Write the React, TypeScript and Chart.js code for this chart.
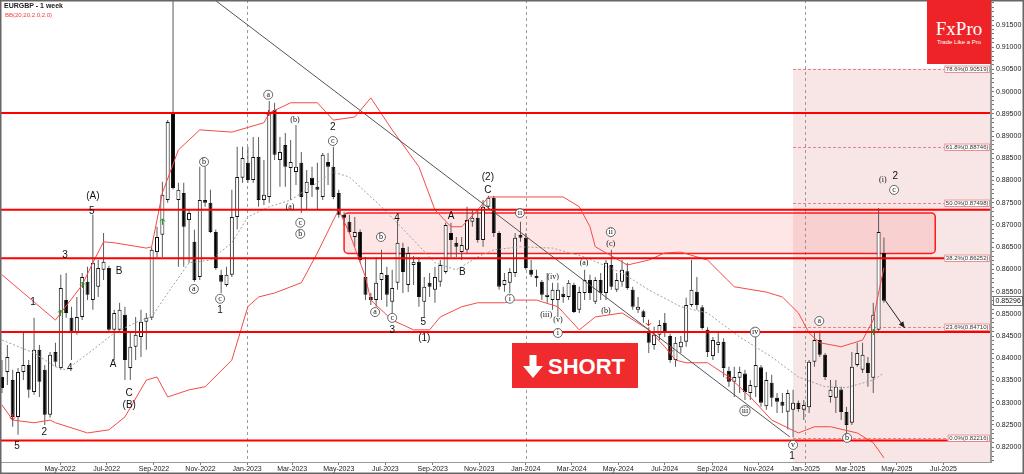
import React, { useEffect, useRef } from "react";
import { Chart, registerables } from "chart.js";
Chart.register(...registerables);

// ---- weekly candles (EURGBP, weeks starting 14 Feb 2022) ----
const FIRST_WEEK = "2022-02-14";
const OPEN = [0.8358,0.8369,0.8351,0.8268,0.8369,0.8385,0.8324,0.8419,0.8374,0.8273,0.8414,0.8378,0.8531,0.8491,0.8457,0.8493,0.8572,0.8531,0.8561,0.8599,0.8603,0.8464,0.8464,0.8498,0.8378,0.8426,0.8448,0.8482,0.8491,0.8639,0.8678,0.8756,0.8952,0.8756,0.8772,0.8711,0.8662,0.8583,0.8756,0.8750,0.8684,0.8588,0.8565,0.8588,0.8718,0.8806,0.8840,0.8801,0.8853,0.8756,0.8763,0.8959,0.8846,0.8880,0.8828,0.8819,0.8840,0.8772,0.8806,0.8786,0.8763,0.8842,0.8831,0.8772,0.8723,0.8707,0.8673,0.8684,0.8583,0.8538,0.8531,0.8576,0.8588,0.8527,0.8570,0.8648,0.8565,0.8610,0.8617,0.8527,0.8570,0.8554,0.8572,0.8594,0.8682,0.8660,0.8639,0.8644,0.8707,0.8716,0.8666,0.8741,0.8761,0.8682,0.8565,0.8570,0.8592,0.8678,0.8671,0.8599,0.8586,0.8572,0.8538,0.8531,0.8531,0.8545,0.8538,0.8565,0.8509,0.8547,0.8576,0.8527,0.8576,0.8547,0.8610,0.8554,0.8572,0.8596,0.8554,0.8509,0.8506,0.8457,0.8430,0.8453,0.8480,0.8450,0.8396,0.8425,0.8437,0.8520,0.8550,0.8515,0.8464,0.8405,0.8430,0.8437,0.8372,0.8347,0.8356,0.8366,0.8322,0.8335,0.8380,0.8292,0.8345,0.8311,0.8302,0.8280,0.8284,0.8300,0.8284,0.8290,0.8392,0.8441,0.8408,0.8313,0.8311,0.8330,0.8279,0.8255,0.8385,0.8374,0.8390,0.8356,0.8464,0.8637];
const HIGH = [0.8396,0.8430,0.8374,0.8378,0.8457,0.8396,0.8491,0.8430,0.8385,0.8414,0.8435,0.8588,0.8592,0.8516,0.8538,0.8592,0.8606,0.8723,0.8621,0.8682,0.8608,0.8509,0.8525,0.8516,0.8457,0.8493,0.8509,0.8502,0.8650,0.8696,0.8797,0.8936,0.9267,0.8795,0.8795,0.8734,0.8689,0.8831,0.8831,0.8779,0.8690,0.8599,0.8606,0.8779,0.8876,0.8876,0.8876,0.8898,0.8898,0.8846,0.8979,0.8975,0.8898,0.8907,0.8891,0.8925,0.8864,0.8824,0.8831,0.8840,0.8862,0.8862,0.8876,0.8779,0.8730,0.8723,0.8718,0.8690,0.8628,0.8547,0.8628,0.8644,0.8606,0.8599,0.8711,0.8660,0.8651,0.8630,0.8628,0.8583,0.8592,0.8606,0.8621,0.8705,0.8705,0.8673,0.8673,0.8741,0.8734,0.8734,0.8756,0.8766,0.8766,0.8686,0.8592,0.8603,0.8682,0.8707,0.8682,0.8621,0.8599,0.8576,0.8592,0.8570,0.8570,0.8561,0.8576,0.8570,0.8561,0.8599,0.8588,0.8583,0.8592,0.8621,0.8644,0.8592,0.8621,0.8615,0.8561,0.8538,0.8509,0.8470,0.8471,0.8486,0.8502,0.8455,0.8448,0.8450,0.8536,0.8621,0.8583,0.8520,0.8470,0.8448,0.8457,0.8445,0.8381,0.8381,0.8381,0.8374,0.8351,0.8448,0.8385,0.8369,0.8363,0.8322,0.8322,0.8329,0.8329,0.8305,0.8306,0.8396,0.8459,0.8462,0.8412,0.8351,0.8351,0.8336,0.8291,0.8414,0.8435,0.8435,0.8403,0.8525,0.8738,0.8672];
const LOW = [0.8322,0.8340,0.8246,0.8228,0.8351,0.8311,0.8318,0.8313,0.8250,0.8266,0.8381,0.8374,0.8491,0.8396,0.8453,0.8486,0.8531,0.8509,0.8538,0.8576,0.8457,0.8396,0.8457,0.8351,0.8351,0.8396,0.8403,0.8419,0.8486,0.8628,0.8628,0.8750,0.8780,0.8606,0.8606,0.8615,0.8572,0.8576,0.8741,0.8682,0.8599,0.8547,0.8561,0.8583,0.8690,0.8795,0.8795,0.8795,0.8741,0.8745,0.8750,0.8846,0.8786,0.8786,0.8756,0.8790,0.8727,0.8734,0.8763,0.8734,0.8756,0.8790,0.8758,0.8716,0.8700,0.8680,0.8651,0.8615,0.8531,0.8520,0.8516,0.8531,0.8516,0.8502,0.8554,0.8547,0.8549,0.8565,0.8516,0.8493,0.8538,0.8525,0.8561,0.8590,0.8628,0.8628,0.8621,0.8637,0.8696,0.8660,0.8651,0.8734,0.8673,0.8554,0.8550,0.8547,0.8583,0.8662,0.8599,0.8583,0.8561,0.8531,0.8525,0.8509,0.8493,0.8525,0.8531,0.8502,0.8502,0.8531,0.8531,0.8522,0.8531,0.8531,0.8554,0.8549,0.8561,0.8554,0.8509,0.8502,0.8480,0.8412,0.8419,0.8441,0.8448,0.8390,0.8381,0.8412,0.8426,0.8516,0.8509,0.8464,0.8403,0.8396,0.8412,0.8358,0.8336,0.8313,0.8322,0.8306,0.8306,0.8313,0.8291,0.8284,0.8291,0.8277,0.8277,0.8240,0.8222,0.8280,0.8261,0.8277,0.8381,0.8403,0.8351,0.8300,0.8277,0.8261,0.8232,0.8250,0.8381,0.8367,0.8336,0.8322,0.8460,0.8525];
const CLOSE = [0.8333,0.8403,0.8268,0.8369,0.8385,0.8329,0.8419,0.8347,0.8273,0.8408,0.8392,0.8558,0.8502,0.8457,0.8493,0.8583,0.8543,0.8615,0.8603,0.8617,0.8464,0.8502,0.8509,0.8396,0.8426,0.8453,0.8482,0.8491,0.8644,0.8673,0.8768,0.8932,0.8783,0.8779,0.8696,0.8727,0.8576,0.8756,0.8750,0.8684,0.8603,0.8572,0.8588,0.8718,0.8808,0.8851,0.8801,0.8853,0.8756,0.8768,0.8952,0.8858,0.8864,0.8831,0.8842,0.8831,0.8763,0.8797,0.8790,0.8779,0.8858,0.8831,0.8763,0.8723,0.8716,0.8684,0.8684,0.8621,0.8543,0.8531,0.8570,0.8592,0.8543,0.8558,0.8660,0.8594,0.8637,0.8617,0.8538,0.8561,0.8561,0.8583,0.8610,0.8700,0.8666,0.8651,0.8655,0.8711,0.8716,0.8666,0.8741,0.8761,0.8682,0.8561,0.8576,0.8594,0.8671,0.8671,0.8603,0.8588,0.8580,0.8543,0.8543,0.8554,0.8554,0.8538,0.8570,0.8504,0.8549,0.8576,0.8547,0.8576,0.8547,0.8615,0.8561,0.8576,0.8599,0.8558,0.8516,0.8516,0.8493,0.8435,0.8453,0.8475,0.8457,0.8396,0.8435,0.8437,0.8520,0.8554,0.8520,0.8468,0.8414,0.8441,0.8437,0.8378,0.8347,0.8358,0.8369,0.8324,0.8340,0.8385,0.8300,0.8351,0.8311,0.8302,0.8293,0.8322,0.8300,0.8286,0.8295,0.8392,0.8441,0.8408,0.8358,0.8329,0.8336,0.8279,0.8250,0.8381,0.8412,0.8408,0.8367,0.8498,0.8684,0.85296];

// ---- Bollinger bands (20, 2.0), read at candle indices ----
const BB_UPPER_IDX = [0,10,11,15,17,19,21,27,28,30,33,37,43,49,50,54,59,62,66,69,73,78,81,84,86,89,91,96,105,108,110,111,117,121,124,127,132,137,143,146,149,151,153,157,161,163,164,165];
const BB_UPPER = [0.8588,0.8486,0.8502,0.8565,0.8615,0.8662,0.8660,0.8648,0.8651,0.8772,0.8869,0.8914,0.8909,0.8930,0.8952,0.8975,0.8975,0.8936,0.8943,0.8986,0.8914,0.8831,0.8734,0.8696,0.8696,0.8734,0.8763,0.8763,0.8763,0.8741,0.8696,0.8651,0.8610,0.8621,0.8637,0.8639,0.8621,0.8561,0.8549,0.8538,0.8502,0.8457,0.8435,0.8426,0.8441,0.8486,0.8547,0.8604];
const BB_LOWER_IDX = [0,2,6,9,10,16,20,23,27,29,31,35,38,43,46,48,51,56,59,62,63,65,68,69,73,77,80,82,86,89,94,96,100,104,108,111,116,121,124,126,128,132,136,140,144,149,152,155,160,163,165];
const BB_LOWER = [0.8295,0.8261,0.8255,0.8261,0.8255,0.8232,0.8239,0.8268,0.8351,0.8358,0.8313,0.8329,0.8336,0.8396,0.8516,0.8538,0.8547,0.8570,0.8637,0.8711,0.8734,0.8682,0.8583,0.8531,0.8486,0.8464,0.8464,0.8493,0.8516,0.8525,0.8525,0.8531,0.8531,0.8516,0.8464,0.8493,0.8502,0.8464,0.8426,0.8396,0.8390,0.8390,0.8358,0.8313,0.8261,0.8232,0.8246,0.8246,0.8232,0.8210,0.8176];
const BB_MID_IDX = [0,6,10,12,17,21,26,28,31,35,39,43,46,50,54,62,65,71,77,81,85,89,92,97,103,109,116,121,127,132,138,144,149,154,158,163,165];
const BB_MID = [0.8441,0.8412,0.8381,0.8374,0.8419,0.8457,0.8486,0.8493,0.8547,0.8615,0.8621,0.8660,0.8718,0.8741,0.8756,0.8819,0.8808,0.8741,0.8666,0.8615,0.8599,0.8628,0.8644,0.8651,0.8648,0.8628,0.8592,0.8554,0.8516,0.8502,0.8448,0.8403,0.8358,0.8336,0.8334,0.8351,0.8367];

// ---- axis ticks ----
const TICK_DATES = ["2022-05-01","2022-07-01","2022-09-01","2022-11-01","2023-01-01","2023-03-01","2023-05-01","2023-07-01","2023-09-01","2023-11-01","2024-01-01","2024-03-01","2024-05-01","2024-07-01","2024-09-01","2024-11-01","2025-01-01","2025-03-01","2025-05-01","2025-07-01"];
const TICK_LABELS = ["May-2022","Jul-2022","Sep-2022","Nov-2022","Jan-2023","Mar-2023","May-2023","Jul-2023","Sep-2023","Nov-2023","Jan-2024","Mar-2024","May-2024","Jul-2024","Sep-2024","Nov-2024","Jan-2025","Mar-2025","May-2025","Jul-2025"];
const Y_LABEL_MIN = 0.82;
const Y_LABEL_MAX = 0.915;
const Y_MIN = 0.816665;
const Y_MAX = 0.920626;
const X_MIN = -0.374;
const X_MAX = 185.03;

// ---- drawn analysis ----
const LEVELS = [0.8952, 0.8734, 0.8625, 0.8459, 0.8215];
const BOX_IDX = [64, 174.6];
const BOX_VAL = [0.8727, 0.8636];
const TREND_IDX = [30, 147.4];
const TREND_VAL = [0.9296, 0.8223];
const FIB_START_IDX = 148;
const FIB_PCT = ["78.6%", "61.8%", "50.0%", "38.2%", "23.6%", "0.0%"];
const FIB_VAL = [0.90519, 0.88746, 0.87498, 0.86252, 0.8471, 0.82216];
const ARROW_IDX = [165.2, 168.9];
const ARROW_VAL = [0.8531, 0.8468];
const LAST_PRICE = 0.85296;

// signal markers (green = up, red = down)
const UP_MARK_IDX = [10.85, 15.0, 29.9, 163.0];
const UP_MARK_VAL = [0.8502, 0.8565, 0.8707, 0.8459];
const DOWN_MARK_IDX = [1.9, 49.8, 120.9, 125.0, 135.8];
const DOWN_MARK_VAL = [0.8268, 0.8952, 0.848, 0.8419, 0.8358];

const WAVE_TEXT = ["1","3","(A)","5","B","4","A","C","(B)","2","5","b","a","c","1","a","(b)","(a)","c","b","2","c","b","4","a","c","3","5","(1)","A","B","(2)","C","ii","i","(iv)","(iii)","(v)","i","(a)","(b)","(c)","ii","iii","iv","v","1","a","b","(i)","2","c"];
const WAVE_KIND = ["n","n","n","n","n","n","n","n","n","n","n","c","c","c","n","c","p","p","c","c","n","c","c","n","c","c","n","n","n","n","n","n","n","c","c","p","p","p","c","p","p","p","c","c","c","c","n","c","c","p","n","c"];
const WAVE_IDX = [5.8,11.8,17.0,16.8,21.9,12.7,20.8,23.8,23.8,7.9,2.8,37.8,35.9,40.8,40.8,49.8,54.8,53.9,55.8,55.8,61.9,61.9,70.9,73.9,69.8,73.0,73.0,78.8,79.0,84.0,86.1,90.9,90.9,96.9,95.0,103.1,101.8,104.0,104.0,108.9,113.0,113.9,113.9,139.0,140.9,148.0,147.8,152.9,158.1,164.8,167.1,166.9];
const WAVE_VAL = [0.8527,0.8633,0.8765,0.8732,0.8597,0.8378,0.8387,0.8322,0.8295,0.8234,0.8201,0.8842,0.8556,0.8534,0.8507,0.8993,0.8936,0.8741,0.8705,0.868,0.8921,0.8889,0.8673,0.8716,0.8504,0.8491,0.8464,0.848,0.8446,0.872,0.8594,0.8808,0.8779,0.8727,0.8534,0.8583,0.8498,0.8486,0.8457,0.8615,0.8507,0.8657,0.8684,0.8282,0.8459,0.8205,0.818,0.8484,0.8221,0.8801,0.881,0.8779];

const WEEK_MS = 7 * 86400000;
const weekIndex = (d: string) => (Date.parse(d + "T00:00:00Z") - Date.parse(FIRST_WEEK + "T00:00:00Z")) / WEEK_MS;
const TICK_IDX = TICK_DATES.map(weekIndex);

const annotations = {
  id: "annotations",
  beforeDatasetsDraw(chart: any) {
    const { ctx, chartArea: a, scales } = chart;
    const x = scales.x, y = scales.y;
    ctx.save();
    ctx.beginPath();
    ctx.rect(a.left, a.top, a.right - a.left, a.bottom - a.top);
    ctx.clip();
    // fibonacci zone
    const zx = x.getPixelForValue(FIB_START_IDX);
    const zt = y.getPixelForValue(FIB_VAL[0]);
    ctx.fillStyle = "rgba(214,92,92,0.16)";
    ctx.fillRect(zx, zt, a.right - zx, a.bottom - zt);
    // year separators
    ctx.setLineDash([3, 3]);
    ctx.strokeStyle = "#9a9a9a";
    ctx.lineWidth = 1;
    TICK_LABELS.forEach((l, i) => {
      if (!l.startsWith("Jan")) return;
      const px = Math.round(x.getPixelForValue(TICK_IDX[i])) + 0.5;
      ctx.beginPath();
      ctx.moveTo(px, a.top);
      ctx.lineTo(px, a.bottom);
      ctx.stroke();
    });
    // fib level lines
    ctx.setLineDash([3, 2]);
    ctx.strokeStyle = "#e08585";
    FIB_VAL.forEach((v) => {
      const py = Math.round(y.getPixelForValue(v)) + 0.5;
      ctx.beginPath();
      ctx.moveTo(zx, py);
      ctx.lineTo(a.right, py);
      ctx.stroke();
    });
    ctx.setLineDash([]);
    // resistance box
    const bx0 = x.getPixelForValue(BOX_IDX[0]);
    const bx1 = x.getPixelForValue(BOX_IDX[1]);
    const by0 = y.getPixelForValue(BOX_VAL[0]);
    const by1 = y.getPixelForValue(BOX_VAL[1]);
    ctx.beginPath();
    (ctx as any).roundRect(bx0, by0, bx1 - bx0, by1 - by0, 4);
    ctx.fillStyle = "rgba(255,60,60,0.13)";
    ctx.fill();
    ctx.lineWidth = 1.5;
    ctx.strokeStyle = "#ff1a1a";
    ctx.stroke();
    ctx.restore();
  },
  afterDatasetsDraw(chart: any) {
    const { ctx, chartArea: a, scales } = chart;
    const x = scales.x, y = scales.y;
    ctx.save();
    // signal markers
    ctx.lineWidth = 1;
    UP_MARK_IDX.forEach((ix, i) => {
      const px = Math.round(x.getPixelForValue(ix)) + 0.5;
      const py = y.getPixelForValue(UP_MARK_VAL[i]);
      ctx.strokeStyle = "#1e9a1e";
      ctx.beginPath();
      ctx.moveTo(px, py + 3);
      ctx.lineTo(px, py - 3);
      ctx.moveTo(px - 2.5, py - 0.5);
      ctx.lineTo(px, py - 3);
      ctx.lineTo(px + 2.5, py - 0.5);
      ctx.stroke();
    });
    DOWN_MARK_IDX.forEach((ix, i) => {
      const px = Math.round(x.getPixelForValue(ix)) + 0.5;
      const py = y.getPixelForValue(DOWN_MARK_VAL[i]);
      ctx.strokeStyle = "#c41e1e";
      ctx.beginPath();
      ctx.moveTo(px, py - 3);
      ctx.lineTo(px, py + 3);
      ctx.moveTo(px - 2.5, py + 0.5);
      ctx.lineTo(px, py + 3);
      ctx.lineTo(px + 2.5, py + 0.5);
      ctx.stroke();
    });
    // arrow
    const ax0 = x.getPixelForValue(ARROW_IDX[0]), ay0 = y.getPixelForValue(ARROW_VAL[0]);
    const ax1 = x.getPixelForValue(ARROW_IDX[1]), ay1 = y.getPixelForValue(ARROW_VAL[1]);
    ctx.strokeStyle = "#222";
    ctx.fillStyle = "#222";
    ctx.lineWidth = 1;
    ctx.beginPath();
    ctx.moveTo(ax0, ay0);
    ctx.lineTo(ax1, ay1);
    ctx.stroke();
    const ang = Math.atan2(ay1 - ay0, ax1 - ax0);
    ctx.beginPath();
    ctx.moveTo(ax1, ay1);
    ctx.lineTo(ax1 - 7 * Math.cos(ang - 0.4), ay1 - 7 * Math.sin(ang - 0.4));
    ctx.lineTo(ax1 - 7 * Math.cos(ang + 0.4), ay1 - 7 * Math.sin(ang + 0.4));
    ctx.closePath();
    ctx.fill();
    // wave labels
    ctx.textAlign = "center";
    ctx.textBaseline = "middle";
    WAVE_TEXT.forEach((t, i) => {
      const px = x.getPixelForValue(WAVE_IDX[i]);
      const py = y.getPixelForValue(WAVE_VAL[i]);
      const k = WAVE_KIND[i];
      if (k === "n") {
        ctx.font = '10px "Liberation Sans", Arial, sans-serif';
        ctx.fillStyle = "#111";
        ctx.fillText(t, px, py);
      } else if (k === "p") {
        ctx.font = '8px "Liberation Serif", serif';
        ctx.fillStyle = "#111";
        ctx.fillText(t, px, py);
      } else {
        ctx.font = '8px "Liberation Serif", serif';
        const w = ctx.measureText(t).width;
        const r = Math.max(4.5, w / 2 + 1.8);
        ctx.beginPath();
        ctx.arc(px, py, r, 0, Math.PI * 2);
        ctx.fillStyle = "#fff";
        ctx.fill();
        ctx.lineWidth = 0.8;
        ctx.strokeStyle = "#444";
        ctx.stroke();
        ctx.fillStyle = "#111";
        ctx.fillText(t, px, py + 0.3);
      }
    });
    // fib labels
    ctx.font = '6px "Liberation Sans", Arial, sans-serif';
    ctx.textAlign = "right";
    FIB_VAL.forEach((v, i) => {
      const txt = FIB_PCT[i] + "(" + v.toFixed(5) + ")";
      const w = ctx.measureText(txt).width;
      const py = Math.round(y.getPixelForValue(v));
      const rx = a.right - 1;
      ctx.fillStyle = "#fff";
      ctx.fillRect(rx - w - 3, py - 3.5, w + 3, 7);
      ctx.strokeStyle = "#e07a7a";
      ctx.lineWidth = 0.8;
      ctx.strokeRect(rx - w - 3 + 0.5, py - 3.5 + 0.5, w + 2, 6.5);
      ctx.fillStyle = "#333";
      ctx.fillText(txt, rx - 1.5, py + 0.3);
    });
    ctx.restore();
  },
  afterDraw(chart: any) {
    const { ctx, chartArea: a, scales, width, height } = chart;
    const y = scales.y;
    ctx.save();
    // last price label
    const py = Math.round(y.getPixelForValue(LAST_PRICE));
    ctx.fillStyle = "#fff";
    ctx.fillRect(a.right + 2, py - 4.5, 30, 9);
    ctx.strokeStyle = "#777";
    ctx.lineWidth = 1;
    ctx.strokeRect(a.right + 2.5, py - 4.5, 29, 9);
    ctx.fillStyle = "#111";
    ctx.font = '7px "Liberation Sans", Arial, sans-serif';
    ctx.textAlign = "left";
    ctx.textBaseline = "middle";
    ctx.fillText(LAST_PRICE.toFixed(5), a.right + 4.5, py + 0.5);
    // frames
    ctx.strokeStyle = "#9a9a9a";
    ctx.strokeRect(a.left + 0.5, a.top + 0.5, a.right - a.left - 1, a.bottom - a.top);
    ctx.strokeStyle = "#666";
    ctx.lineWidth = 1.5;
    ctx.strokeRect(0.75, 0.75, width - 1.5, height - 1.5);
    ctx.restore();
  },
};

export default function App() {
  const ref = useRef<HTMLCanvasElement | null>(null);
  useEffect(() => {
    document.body.style.margin = "0";
    const canvas = ref.current;
    if (!canvas) return;
    const bodies = OPEN.map((o, i) => ({ x: i, y: [o, CLOSE[i]] }));
    const wicks = OPEN.map((_, i) => ({ x: i, y: [LOW[i], HIGH[i]] }));
    const bodyColors = OPEN.map((o, i) => (CLOSE[i] >= o ? "#ffffff" : "#000000"));
    const levelSets = LEVELS.map((v) => ({
      type: "line" as const,
      data: [{ x: X_MIN, y: v }, { x: X_MAX, y: v }],
      borderColor: "#ff0000",
      borderWidth: 2,
      pointRadius: 0,
      order: -2,
    }));
    const chart = new Chart(canvas, {
      type: "bar",
      data: {
        datasets: [
          {
            type: "bar",
            data: wicks as any,
            backgroundColor: "#5a5a5a",
            borderWidth: 0,
            barThickness: 1,
            grouped: false,
            inflateAmount: 0,
            order: 4,
          } as any,
          {
            type: "bar",
            data: bodies as any,
            backgroundColor: bodyColors,
            borderColor: "#111",
            borderWidth: 1,
            borderSkipped: false,
            barThickness: 4,
            grouped: false,
            inflateAmount: 0,
            minBarLength: 2,
            order: 3,
          } as any,
          {
            type: "line",
            data: BB_UPPER_IDX.map((ix, i) => ({ x: ix, y: BB_UPPER[i] })),
            borderColor: "#f24a4a",
            borderWidth: 1,
            pointRadius: 0,
            tension: 0,
            order: 1,
          },
          {
            type: "line",
            data: BB_LOWER_IDX.map((ix, i) => ({ x: ix, y: BB_LOWER[i] })),
            borderColor: "#f24a4a",
            borderWidth: 1,
            pointRadius: 0,
            tension: 0,
            order: 1,
          },
          {
            type: "line",
            data: BB_MID_IDX.map((ix, i) => ({ x: ix, y: BB_MID[i] })),
            borderColor: "#a0a0a0",
            borderWidth: 1,
            borderDash: [2, 2],
            pointRadius: 0,
            tension: 0,
            order: 2,
          },
          ...levelSets,
          {
            type: "line",
            data: TREND_IDX.map((ix, i) => ({ x: ix, y: TREND_VAL[i] })),
            borderColor: "#555",
            borderWidth: 1,
            pointRadius: 0,
            order: -1,
          },
        ] as any,
      },
      options: {
        responsive: false,
        animation: false,
        devicePixelRatio: 1,
        events: [],
        layout: { padding: 0 },
        plugins: { legend: { display: false }, tooltip: { enabled: false }, title: { display: false } },
        scales: {
          x: {
            type: "linear",
            min: X_MIN,
            max: X_MAX,
            offset: false,
            position: "bottom",
            afterBuildTicks: (s: any) => {
              s.ticks = TICK_IDX.map((v) => ({ value: v }));
            },
            afterFit: (s: any) => {
              s.height = 12;
              s.paddingLeft = 0;
              s.paddingRight = 0;
            },
            ticks: {
              autoSkip: false,
              maxRotation: 0,
              padding: 0,
              color: "#222",
              font: { size: 7, family: '"Liberation Sans", Arial, sans-serif' },
              callback: (_v: any, i: number) => TICK_LABELS[i] ?? "",
            },
            grid: { drawOnChartArea: false, tickLength: 3, color: "#777", offset: false },
            border: { display: true, color: "#999" },
          },
          y: {
            type: "linear",
            position: "right",
            min: Y_MIN,
            max: Y_MAX,
            afterBuildTicks: (s: any) => {
              const t: any[] = [];
              for (let m = 817; m <= 920; m++) t.push({ value: m / 1000 });
              s.ticks = t;
            },
            afterFit: (s: any) => {
              s.width = 33;
              s.paddingTop = 0;
              s.paddingBottom = 0;
            },
            ticks: {
              autoSkip: false,
              padding: 2,
              color: "#222",
              font: { size: 7, family: '"Liberation Sans", Arial, sans-serif' },
              callback: (v: any) => {
                const m = Math.round(Number(v) * 1000);
                return m % 5 === 0 && m >= Y_LABEL_MIN * 1000 - 0.1 && m <= Y_LABEL_MAX * 1000 + 0.1
                  ? (m / 1000).toFixed(5)
                  : "";
              },
            },
            grid: { drawOnChartArea: false, tickLength: 3, color: "#777" },
            border: { display: true, color: "#999" },
          },
        },
      } as any,
      plugins: [annotations],
    });
    return () => chart.destroy();
  }, []);

  return (
    <div style={{ position: "absolute", left: 0, top: 0, width: 1024, height: 474, background: "#fff", overflow: "hidden" }}>
      <canvas ref={ref} width={1024} height={474} style={{ position: "absolute", left: 0, top: 0, width: 1024, height: 474 }} />
      <div style={{ position: "absolute", left: 4, top: 2, font: 'bold 7px "Liberation Sans", Arial, sans-serif', color: "#222", whiteSpace: "nowrap", lineHeight: "8px" }}>
        EURGBP - 1 week
      </div>
      <div style={{ position: "absolute", left: 5, top: 12, font: '6px "Liberation Sans", Arial, sans-serif', color: "#f04040", whiteSpace: "nowrap", lineHeight: "7px" }}>
        BB(20,20,2.0,2.0)
      </div>
      <div style={{ position: "absolute", left: 927, top: 0, width: 64, height: 64, background: "#ee2328" }}>
        <div style={{ position: "absolute", left: 0, top: 19, width: 64, textAlign: "center", font: '19px "Liberation Serif", serif', lineHeight: "19px", color: "#fff" }}>FxPro</div>
        <div style={{ position: "absolute", left: 0, top: 39, width: 64, textAlign: "center", font: '6px "Liberation Sans", Arial, sans-serif', lineHeight: "6px", color: "#fff", whiteSpace: "nowrap" }}>
          Trade Like a Pro
        </div>
      </div>
      <div style={{ position: "absolute", left: 512, top: 343, width: 126, height: 45, background: "#ef2b2d" }}>
        <svg width={20} height={23} style={{ position: "absolute", left: 11, top: 12 }} viewBox="0 0 20 23">
          <polygon points="6.5,0 13.5,0 13.5,11 20,11 10,23 0,11 6.5,11" fill="#fff" />
        </svg>
        <div style={{ position: "absolute", left: 36, top: 13, font: 'bold 22px "Liberation Sans", Arial, sans-serif', lineHeight: "22px", color: "#fff", whiteSpace: "nowrap" }}>
          SHORT
        </div>
      </div>
    </div>
  );
}
